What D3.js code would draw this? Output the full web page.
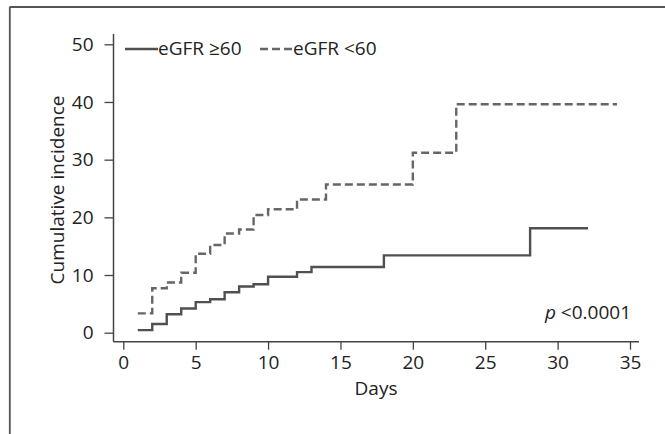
<!DOCTYPE html>
<html>
<head>
<meta charset="utf-8">
<script src="https://cdn.jsdelivr.net/npm/d3@7.9.0/dist/d3.min.js"></script>
<style>
  body { margin: 0; background: #fff; }
  svg { display: block; font-family: "Open Sans", sans-serif; }
</style>
</head>
<body>
<svg id="chart" width="665" height="434"></svg>
<script>
// eGFR >= 60 (solid)
const daysHigh = [1, 2, 3, 4, 5, 6, 7, 8, 9, 10, 12, 13, 18, 28.1, 32.1];
const incHigh  = [0.45, 1.5, 3.2, 4.2, 5.3, 5.8, 7.0, 8.0, 8.4, 9.7, 10.5, 11.4, 13.4, 18.1, 18.1];
// eGFR < 60 (dashed)
const daysLow = [1, 2, 3, 4, 5, 6, 7, 8, 9, 10, 12, 14, 20, 23, 34.1];
const incLow  = [3.35, 7.7, 8.7, 10.4, 13.7, 15.2, 17.2, 17.9, 20.4, 21.4, 23.1, 25.7, 31.2, 39.6, 39.6];

const xTicks = [0, 5, 10, 15, 20, 25, 30, 35];
const yTicks = [0, 10, 20, 30, 40, 50];
const seriesNames = ["eGFR \u226560", "eGFR <60"];

const svg = d3.select("#chart");
const ink = "#222";
const fontSize = "19px";

// frame (top + left only)
svg.append("line").attr("x1", 9.5).attr("x2", 665).attr("y1", 7).attr("y2", 7)
    .attr("stroke", "#555").attr("stroke-width", 1.8);
svg.append("line").attr("x1", 9.8).attr("x2", 9.8).attr("y1", 7).attr("y2", 434)
    .attr("stroke", "#555").attr("stroke-width", 1.8);

const x = d3.scaleLinear().domain([0, 35]).range([123.3, 630]);
const y = d3.scaleLinear().domain([0, 50]).range([332.7, 44.3]);

const axisX = 113.5, axisY = 341.7;

// axes
const gx = svg.append("g").attr("transform", `translate(0,${axisY})`)
    .call(d3.axisBottom(x).tickValues(xTicks).tickSize(8).tickPadding(6));
const gy = svg.append("g").attr("transform", `translate(${axisX},0)`)
    .call(d3.axisLeft(y).tickValues(yTicks).tickSize(9).tickPadding(11));

[gx, gy].forEach(g => {
    g.select(".domain").remove();
    g.selectAll(".tick line").attr("stroke", "#444").attr("stroke-width", 1.3);
    g.selectAll(".tick text").attr("fill", ink).style("font-size", fontSize)
        .style("font-family", "'Open Sans', sans-serif");
});

svg.append("line").attr("x1", axisX).attr("x2", 639).attr("y1", axisY).attr("y2", axisY)
    .attr("stroke", "#444").attr("stroke-width", 1.5);
svg.append("line").attr("x1", axisX).attr("x2", axisX).attr("y1", 34).attr("y2", axisY)
    .attr("stroke", "#444").attr("stroke-width", 1.5);

// axis labels
svg.append("text")
    .attr("x", 376).attr("y", 395)
    .attr("text-anchor", "middle")
    .attr("fill", ink).style("font-size", fontSize)
    .text("Days");

svg.append("text")
    .attr("transform", `translate(64,190) rotate(-90)`)
    .attr("text-anchor", "middle")
    .attr("fill", ink).style("font-size", fontSize)
    .text("Cumulative incidence");

// step lines
const line = d3.line()
    .curve(d3.curveStepAfter)
    .x(d => x(d[0]))
    .y(d => y(d[1]));

svg.append("path")
    .datum(daysLow.map((d, i) => [d, incLow[i]]))
    .attr("fill", "none")
    .attr("stroke", "#666")
    .attr("stroke-width", 2.4)
    .attr("stroke-dasharray", "8,4")
    .attr("d", line);

svg.append("path")
    .datum(daysHigh.map((d, i) => [d, incHigh[i]]))
    .attr("fill", "none")
    .attr("stroke", "#505050")
    .attr("stroke-width", 2.4)
    .attr("d", line);

// legend
const legend = svg.append("g");
legend.append("line").attr("x1", 125).attr("x2", 158).attr("y1", 49).attr("y2", 49)
    .attr("stroke", "#505050").attr("stroke-width", 2.4);
legend.append("text").attr("x", 158).attr("y", 54.5)
    .attr("fill", ink).style("font-size", fontSize).text(seriesNames[0]);
legend.append("line").attr("x1", 260).attr("x2", 293).attr("y1", 49).attr("y2", 49)
    .attr("stroke", "#666").attr("stroke-width", 2.4).attr("stroke-dasharray", "8,4");
legend.append("text").attr("x", 293).attr("y", 54.5)
    .attr("fill", ink).style("font-size", fontSize).text(seriesNames[1]);

// p value
const pText = svg.append("text")
    .attr("x", 631).attr("y", 319)
    .attr("text-anchor", "end")
    .attr("fill", ink).style("font-size", fontSize);
pText.append("tspan").style("font-style", "italic").text("p");
pText.append("tspan").text(" <0.0001");
</script>
</body>
</html>
